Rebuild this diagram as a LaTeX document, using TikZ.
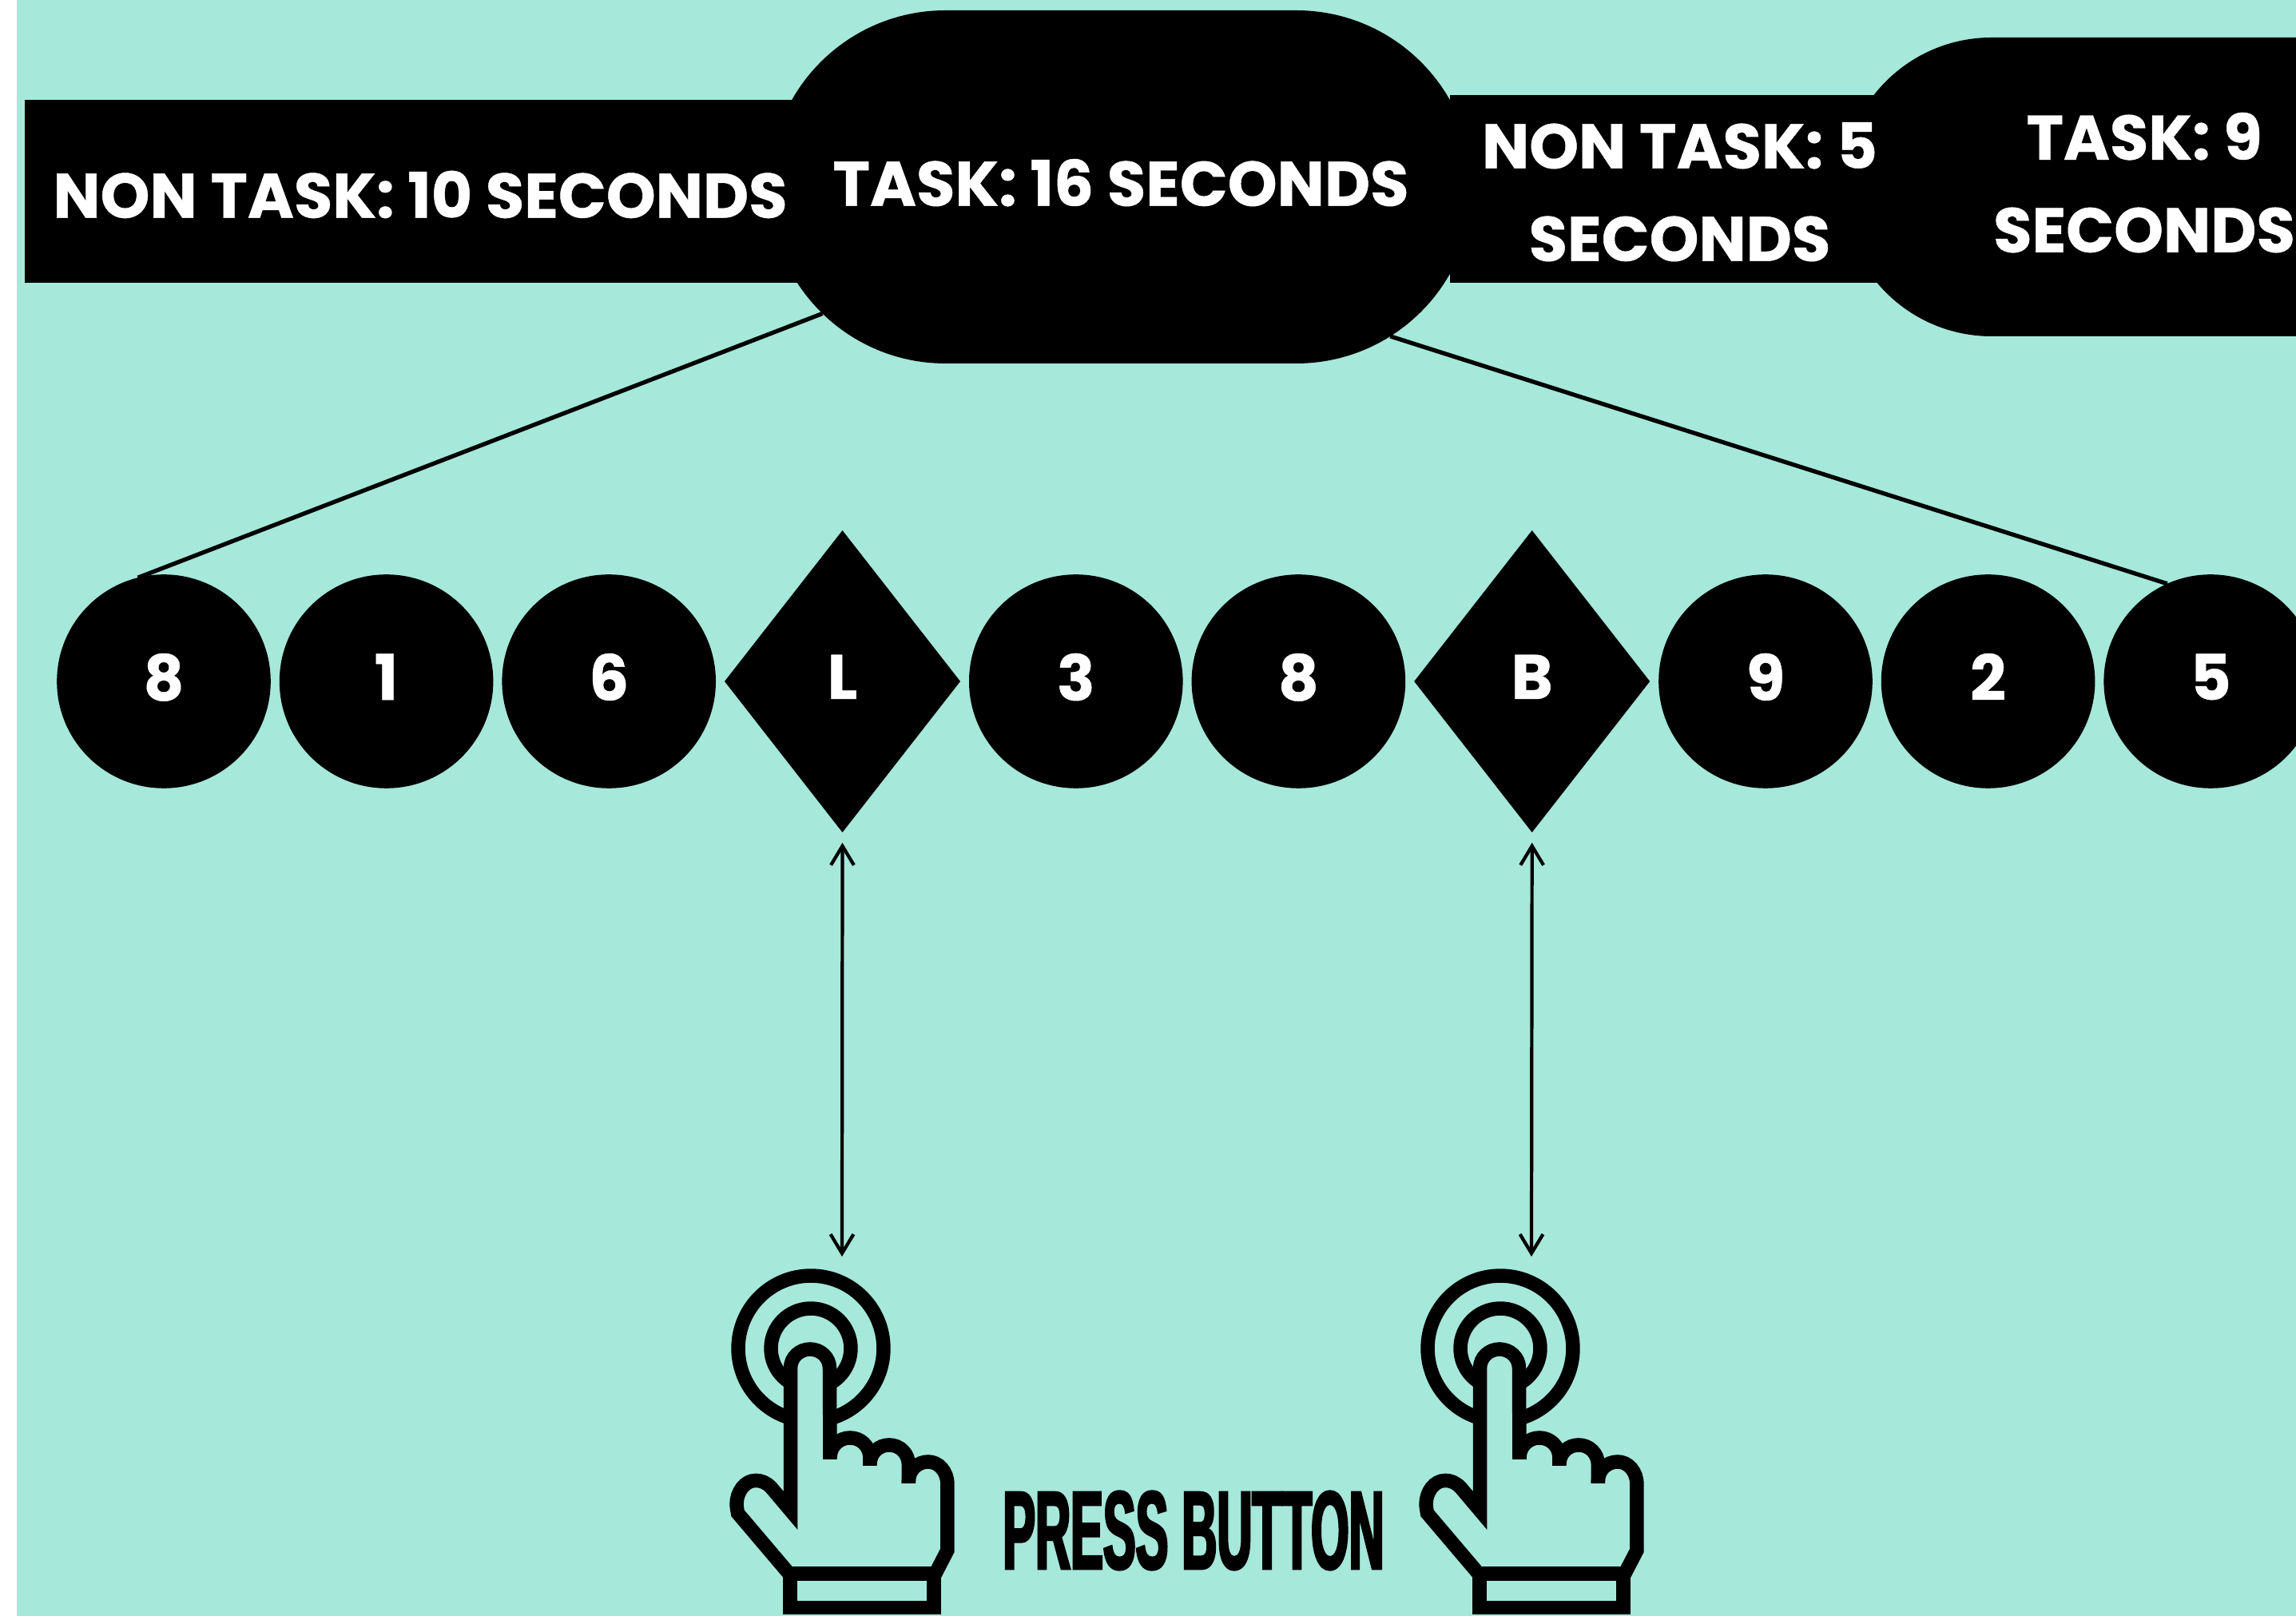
\documentclass[tikz,border=0pt]{standalone}
\usepackage{fontspec}
\usetikzlibrary{shapes.geometric, shapes.misc, arrows.meta, positioning}
\newfontfamily\barfont[BoldFeatures={FakeBold=0.6}]{Poppins}
\newfontfamily\pressfont[FakeStretch=0.44,BoldFeatures={FakeBold=2.2}]{Liberation Sans}
\definecolor{mint}{HTML}{A6E8DA}
\tikzset{
    barlbl/.style={text=white, align=center, inner sep=0pt,
                   font=\barfont\bfseries\fontsize{22.4}{33}\selectfont},
    taskbox/.style={rounded rectangle, fill=black, barlbl, outer sep=0pt, minimum height=#1},
    nontaskbox/.style={rectangle, fill=black, barlbl, outer sep=0pt},
    digitnode/.style={circle, fill=black, barlbl, text depth=3.2pt, minimum size=2.676cm, outer sep=0pt},
    keynode/.style={diamond, fill=black, barlbl, text depth=3.2pt, aspect=0.78, minimum width=2.95cm,
                    minimum height=3.78cm, outer sep=0pt},
    connector/.style={line width=1.5pt},
    pressarrow/.style={{Straight Barb[length=6.8pt,width=8.2pt]}-{Straight Barb[length=6.8pt,width=8.2pt]}, line width=1.2pt},
    handline/.style={line width=0.175cm, miter limit=10},
    presshand/.pic={
        \begin{scope}[x=0.01cm, y=-0.01cm]
            \draw[handline] (0,0) circle[radius=91];
            \draw[handline] (0,0) circle[radius=50];
            \fill[mint] (-25.5,25) rectangle (23.5,200);
            \fill[mint] (-1,1) circle[radius=24];
            \draw[handline]
                (24,139) -- (23.5,25) .. controls (23.5,11) and (12,1) .. (-1,1)
                .. controls (-14,1) and (-25.5,11) .. (-25.5,25) -- (-25.5,203) -- (-50,174)
                .. controls (-56,168) and (-62,165.5) .. (-69,165.5)
                .. controls (-83,165.5) and (-93,180) .. (-93,195)
                .. controls (-93,199) and (-92,203) .. (-91.5,206.5)
                -- (-27.4,282) -- (156,282) -- (171,253) -- (171,170)
                .. controls (171,154) and (160,142) .. (147,142)
                .. controls (134,142) and (122.5,152) .. (122.5,166) -- (122.5,169);
            \draw[handline] (24,137) .. controls (24,123) and (35,112) .. (49,112)
                .. controls (63,112) and (74,123) .. (74,137) -- (74,147);
            \draw[handline] (74,145) .. controls (74,131) and (85,121) .. (98,121)
                .. controls (112,121) and (122.5,132) .. (122.5,146) -- (122.5,169);
            \draw[handline] (-26,282) rectangle (154,324.5);
            \coordinate (-tip) at (39,-115);
        \end{scope}
    },
}

\begin{document}
\begin{tikzpicture}[node distance=0.11cm]

    \useasboundingbox (0,0) rectangle (28.74,20.23);
    \clip (0,0) rectangle (28.74,20.23);
    \fill[mint] (0.21,0) rectangle (28.74,20.23);

    % ── TOP BAR ──
    \node[taskbox=4.42cm, minimum width=8.81cm, text depth=3.2pt] (task16) at (14.03,17.89) {TASK: 16 SECONDS};
    \node[taskbox=3.74cm, minimum width=7.56cm, text depth=3.2pt] (task9) at (26.84,17.89) {TASK: 9\\SECONDS};
    \node[nontaskbox, minimum width=9.90cm, minimum height=2.29cm, text height=19pt] (nontask10) at (5.26,17.835) {NON TASK: 10 SECONDS};
    \node[nontaskbox, minimum width=5.75cm, minimum height=2.35cm] (nontask5) at (21.025,17.865) {\rule{0pt}{18.5pt}NON TASK: 5\\SECONDS};

    % ── DIGITS ──
    \node[digitnode] (n1) at (2.05,11.70) {8};
    \node[digitnode, right=of n1] (n2) {1};
    \node[digitnode, right=of n2] (n3) {6};
    \node[keynode, right=of n3] (kl) {L};
    \node[digitnode, right=of kl] (n4) {3};
    \node[digitnode, right=of n4] (n5) {8};
    \node[keynode, right=of n5] (kb) {B};
    \node[digitnode, right=of kb] (n6) {9};
    \node[digitnode, right=of n6] (n7) {2};
    \node[digitnode, right=of n7] (n8) {5};

    % ── HANDS ──
    \pic (handl) at (10.15,3.35) {presshand};
    \pic (handb) at (18.78,3.35) {presshand};
    \node[font=\pressfont\bfseries\fontsize{39.5}{40}\selectfont, inner sep=0pt] (press) at (14.94,1.07) {PRESS BUTTON};

    % ── CONNECTORS ──
    \draw[connector] (task16.203) -- (n1.104);
    \draw[connector] (task16.-29) -- (n8.114);
    \draw[pressarrow] ([yshift=-0.13cm]kl.south) -- (handl-tip);
    \draw[pressarrow] ([yshift=-0.13cm]kb.south) -- (handb-tip);

\end{tikzpicture}
\end{document}
